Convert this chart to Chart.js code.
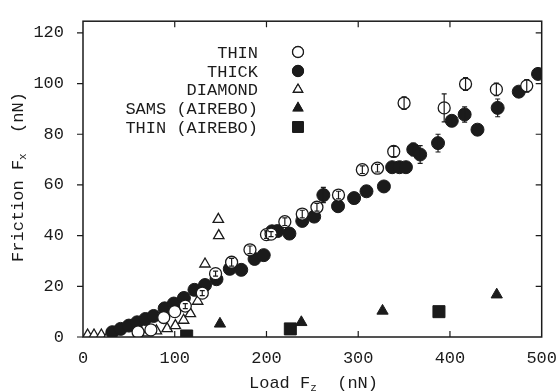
<!DOCTYPE html>
<html>
<head>
<meta charset="utf-8">
<script src="https://cdn.jsdelivr.net/npm/chart.js@4.4.1/dist/chart.umd.min.js"></script>
<style>
  html, body { margin: 0; padding: 0; background: #fff; }
  #wrap { width: 560px; height: 391px; position: relative; }
</style>
</head>
<body>
<div id="wrap"><canvas id="c"></canvas></div>
<script>
// valores (Load Fz, Friction Fx, barra de error)
const thinX   = [60, 74, 88, 100, 111.5, 130, 144.5, 162, 182, 200, 205, 220, 239, 255, 278.5, 304.5, 321, 338.7, 350, 393.7, 417, 450.6, 483.7];
const thinY   = [2, 2.8, 7.7, 10, 12.2, 17.3, 25, 29.5, 34.4, 40.4, 40.6, 45.5, 48.5, 51.2, 56, 66, 66.6, 73.2, 92.3, 90.4, 99.8, 97.7, 99.1];
const thinErr = [0, 0, 0, 0, 1, 1, 1, 1.5, 1.5, 1.5, 1, 1.5, 1.5, 1.5, 1.5, 1.5, 1.5, 2, 2.5, 5.5, 2.5, 2.5, 2.5];

const thickX   = [32, 41, 50, 59, 68, 77, 89, 99, 110, 121.5, 133, 145.5, 160, 172.5, 187, 197, 206, 212, 225, 239, 252, 262, 278, 295.5, 309, 328, 337, 345, 352, 360, 367.5, 387, 402, 416, 430, 452, 475, 496];
const thickY   = [1.9, 3.2, 4.5, 5.8, 7.1, 8.3, 11.3, 13.2, 15.4, 18.6, 20.5, 22.8, 26.9, 26.5, 30.8, 32.3, 41.7, 41.8, 40.8, 45.8, 47.5, 56, 51.6, 54.8, 57.5, 59.4, 67, 67, 67, 74, 72, 76.5, 85.3, 87.8, 81.8, 90.4, 96.8, 103.8];
const thickErr = [0, 0, 0, 0, 0, 0, 0, 0, 0, 0, 0, 0, 0, 0, 0, 0, 0, 1.5, 0, 0, 0, 3, 0, 0, 0, 0, 0, 0, 0, 2.5, 3.5, 3.5, 2, 3, 0, 3.5, 0, 0];

const diamondX = [5, 12, 20, 28, 60, 70, 80, 91.7, 100.7, 109.7, 117, 125, 133, 148, 147.5];
const diamondY = [0.8, 0.8, 0.8, 0.8, 0.6, 1.6, 2.4, 3.3, 4.5, 6.6, 9.2, 14.1, 28.8, 40, 46.4];

const samsX = [149.3, 238, 326.5, 451];
const samsY = [5.2, 5.8, 10.3, 16.7];

const thinAirX = [113, 226, 388];
const thinAirY = [0.4, 3.2, 10];

const xTicks = [0, 100, 200, 300, 400, 500];
const yTicks = [0, 20, 40, 60, 80, 100, 120];

const legendLabels = ["THIN", "THICK", "DIAMOND", "SAMS (AIREBO)", "THIN (AIREBO)"];

const ink = "#1b1b1b";
const font = "'Liberation Mono', 'DejaVu Sans Mono', monospace";

function pts(xs, ys) {
    return xs.map((x, i) => ({ x: x, y: ys[i] }));
}

const datasets = [
    { label: legendLabels[0], data: pts(thinX, thinY), errors: thinErr,
      pointStyle: "circle", pointRadius: 6, backgroundColor: "#fff", borderColor: ink, borderWidth: 1.3 },
    { label: legendLabels[1], data: pts(thickX, thickY), errors: thickErr,
      pointStyle: "circle", pointRadius: 6.5, backgroundColor: ink, borderColor: ink, borderWidth: 1 },
    { label: legendLabels[2], data: pts(diamondX, diamondY),
      pointStyle: "triangle", pointRadius: 6, backgroundColor: "#fff", borderColor: ink, borderWidth: 1.3 },
    { label: legendLabels[3], data: pts(samsX, samsY),
      pointStyle: "triangle", pointRadius: 6.5, backgroundColor: ink, borderColor: ink, borderWidth: 1 },
    { label: legendLabels[4], data: pts(thinAirX, thinAirY),
      pointStyle: "rect", pointRadius: 8.5, backgroundColor: ink, borderColor: ink, borderWidth: 1 },
];

// marco, ticks hacia dentro/fuera, barras de error, leyenda y titulos con subindice
const decor = {
    id: "decor",
    afterDatasetsDraw(chart) {
        const ctx = chart.ctx;
        const xs = chart.scales.x, ys = chart.scales.y;
        ctx.save();
        ctx.strokeStyle = ink;
        ctx.lineWidth = 1.2;
        chart.data.datasets.forEach((ds) => {
            if (!ds.errors) return;
            ds.data.forEach((p, i) => {
                const e = ds.errors[i];
                if (!e) return;
                const px = xs.getPixelForValue(p.x);
                const y1 = ys.getPixelForValue(p.y + e);
                const y2 = ys.getPixelForValue(p.y - e);
                ctx.beginPath();
                ctx.moveTo(px, y1); ctx.lineTo(px, y2);
                ctx.moveTo(px - 2.5, y1); ctx.lineTo(px + 2.5, y1);
                ctx.moveTo(px - 2.5, y2); ctx.lineTo(px + 2.5, y2);
                ctx.stroke();
            });
        });
        ctx.restore();
    },
    afterDraw(chart) {
        const ctx = chart.ctx;
        const a = chart.chartArea;
        const xs = chart.scales.x, ys = chart.scales.y;
        ctx.save();
        ctx.strokeStyle = ink;
        ctx.lineWidth = 1.5;
        ctx.strokeRect(a.left, a.top, a.right - a.left, a.bottom - a.top);

        ctx.lineWidth = 1.2;
        ctx.beginPath();
        xTicks.forEach((v) => {
            if (v === 0 || v === 500) return;
            const px = xs.getPixelForValue(v);
            ctx.moveTo(px, a.bottom); ctx.lineTo(px, a.bottom - 6);
            ctx.moveTo(px, a.top); ctx.lineTo(px, a.top + 6);
        });
        yTicks.forEach((v) => {
            const py = ys.getPixelForValue(v);
            ctx.moveTo(a.left, py); ctx.lineTo(a.left - 6, py);
            if (v !== 0) { ctx.moveTo(a.right, py); ctx.lineTo(a.right - 6, py); }
        });
        ctx.stroke();

        // leyenda
        const lx = 258, mx = 298;
        const ly = [52, 71, 89.5, 108, 127];
        ctx.fillStyle = ink;
        ctx.font = "17px " + font;
        ctx.textAlign = "right";
        ctx.textBaseline = "middle";
        legendLabels.forEach((t, i) => {
            ctx.fillText(t, lx, ly[i] + 1);
            const ds = datasets[i];
            const r = ds.pointStyle === "rect" ? 7.5 : 5.5;
            Chart.helpers.drawPoint(ctx, {
                pointStyle: ds.pointStyle, radius: r, rotation: 0, borderWidth: ds.borderWidth
            }, mx, ly[i]);
            ctx.fillStyle = ds.backgroundColor;
            ctx.strokeStyle = ds.borderColor;
            ctx.lineWidth = ds.borderWidth;
            ctx.fill();
            ctx.stroke();
            ctx.fillStyle = ink;
        });

        // titulo eje x: Load F_z (nN)
        ctx.textAlign = "left";
        ctx.textBaseline = "alphabetic";
        const big = "17px " + font, small = "11px " + font;
        ctx.font = big;
        const w1 = ctx.measureText("Load F").width;
        ctx.font = small;
        const w2 = ctx.measureText("z").width;
        ctx.font = big;
        const w3 = ctx.measureText("  (nN)").width;
        let x0 = 313.5 - (w1 + w2 + w3) / 2;
        const by = 388;
        ctx.fillText("Load F", x0, by);
        ctx.font = small;
        ctx.fillText("z", x0 + w1, by + 3);
        ctx.font = big;
        ctx.fillText("  (nN)", x0 + w1 + w2, by);

        // titulo eje y: Friction F_x (nN)
        ctx.translate(23, 177);
        ctx.rotate(-Math.PI / 2);
        ctx.font = big;
        const v1 = ctx.measureText("Friction F").width;
        ctx.font = small;
        const v2 = ctx.measureText("x").width;
        ctx.font = big;
        const v3 = ctx.measureText("  (nN)").width;
        x0 = -(v1 + v2 + v3) / 2;
        ctx.fillText("Friction F", x0, 0);
        ctx.font = small;
        ctx.fillText("x", x0 + v1, 3);
        ctx.font = big;
        ctx.fillText("  (nN)", x0 + v1 + v2, 0);
        ctx.restore();
    }
};

new Chart(document.getElementById("c"), {
    type: "scatter",
    data: { datasets: datasets },
    options: {
        responsive: true,
        maintainAspectRatio: false,
        animation: false,
        layout: { padding: { top: 13, right: 14, left: 0, bottom: 0 } },
        plugins: {
            legend: { display: false },
            tooltip: { enabled: false },
        },
        scales: {
            x: {
                type: "linear",
                min: 0,
                max: 500,
                grid: { display: false },
                border: { display: false },
                afterFit: (s) => { s.height = 54; },
                afterBuildTicks: (s) => { s.ticks = xTicks.map((v) => ({ value: v })); },
                ticks: { color: ink, font: { family: font, size: 17 }, padding: 3, maxRotation: 0 },
            },
            y: {
                type: "linear",
                min: 0,
                max: 124.6,
                grid: { display: false },
                border: { display: false },
                afterFit: (s) => { s.width = 83; },
                afterBuildTicks: (s) => { s.ticks = yTicks.map((v) => ({ value: v })); },
                ticks: { color: ink, font: { family: font, size: 17 }, padding: 11 },
            },
        },
    },
    plugins: [decor],
});
</script>
</body>
</html>
